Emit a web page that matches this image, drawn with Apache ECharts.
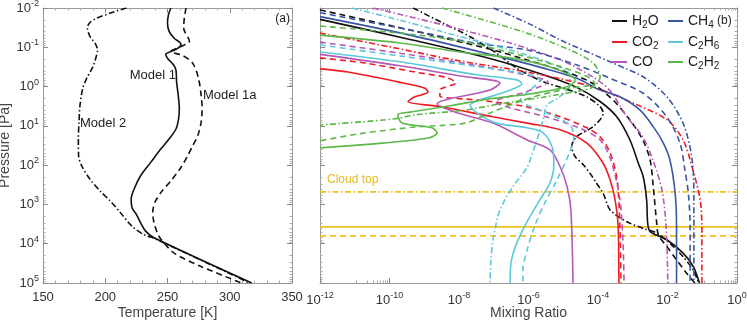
<!DOCTYPE html>
<html>
<head>
<meta charset="utf-8">
<script src="https://cdn.jsdelivr.net/npm/echarts@6/dist/echarts.min.js"></script>
<style>
html,body{margin:0;padding:0;background:#fff}
#chart{width:747px;height:326px}
</style>
</head>
<body>
<div id="chart"></div>
<script>
// panel (a): [temperature K, log10 pressure Pa]
var tempM1 = [[252.7,-2],[250.8,-1.83],[250,-1.62],[251.4,-1.40],[255.4,-1.23],[260.8,-1.08],[258.1,-0.97],[252.7,-0.89],[248.6,-0.82],[250,-0.72],[254.9,-0.55],[256.8,-0.42],[257.3,-0.12],[258.6,0.22],[259.5,0.56],[258.9,0.82],[256.8,1.08],[251.4,1.33],[244.6,1.59],[236.5,1.93],[228.4,2.27],[223,2.62],[220.8,2.87],[221.6,3.09],[225.1,3.26],[228.4,3.47],[232.4,3.68],[239.2,3.85],[317.6,5.0]];
var tempM1a = [[264.9,-2],[263.5,-1.74],[263,-1.49],[267.6,-1.15],[260.8,-1.02],[252.7,-0.89],[262.2,-0.79],[270.3,-0.59],[274.9,-0.21],[277,0.22],[277.8,0.56],[277,0.91],[274.3,1.25],[270.3,1.50],[266.2,1.76],[260.8,2.06],[252.7,2.40],[244.6,2.70],[239.7,2.96],[238.1,3.21],[239.2,3.47],[241.9,3.73],[244.6,3.88],[255.4,4.24],[277,4.58],[309.5,5.0]];
var tempM2 = [[217,-2],[204,-1.87],[193.2,-1.74],[187.3,-1.62],[185.7,-1.49],[187.8,-1.27],[191.9,-1.10],[193.8,-0.93],[192.7,-0.76],[190,-0.5],[185.1,-0.21],[181.9,0.05],[179.7,0.48],[178.9,0.91],[178.4,1.33],[178.6,1.76],[181.1,2.02],[187.8,2.36],[195.9,2.66],[204,2.91],[212.2,3.21],[221.6,3.56],[231.1,3.77],[240.5,3.88],[316,5.0]];

// panel (b): [log10 mixing ratio, log10 pressure Pa]
var h2oM1 = [[-12.0,-1.71],[-9.41,-1.20],[-7.01,-0.69],[-5.57,-0.30],[-4.61,0.02],[-3.94,0.38],[-3.46,0.77],[-3.08,1.36],[-2.84,1.95],[-2.70,2.29],[-2.60,2.89],[-2.57,3.48],[-2.50,3.69],[-2.02,3.90],[-1.55,4.24],[-1.26,4.58],[-1.08,5.0]];
var h2oM1a = [[-12.0,-1.95],[-9.41,-1.44],[-7.01,-0.93],[-6.05,-0.68],[-5.09,-0.42],[-4.23,-0.12],[-3.57,0.34],[-3.08,0.85],[-2.71,1.36],[-2.50,1.87],[-2.41,2.55],[-2.31,3.48],[-2.26,3.78],[-2.02,4.07],[-1.74,4.41],[-1.45,4.75],[-1.21,5.0]];
var h2oM2 = [[-9.32,-2.0],[-8.45,-1.61],[-7.68,-1.27],[-6.92,-0.85],[-6.34,-0.47],[-5.57,-0.12],[-5.00,0.04],[-4.33,0.26],[-3.94,0.51],[-3.85,0.68],[-4.14,1.02],[-4.61,1.27],[-4.76,1.53],[-4.66,1.78],[-4.42,1.99],[-4.23,2.21],[-4.04,2.46],[-3.85,2.72],[-3.65,3.14],[-3.17,3.44],[-2.70,3.61],[-2.31,3.73],[-1.93,3.99],[-1.55,4.33],[-1.26,4.67],[-1.11,5.0]];
var ch4M1 = [[-12.0,-1.78],[-9.41,-1.31],[-7.01,-0.80],[-5.57,-0.47],[-4.61,-0.21],[-3.94,0.09],[-3.37,0.26],[-2.79,0.60],[-2.41,1.02],[-2.12,1.44],[-1.93,1.87],[-1.78,2.71],[-1.74,3.56],[-1.74,5.0]];
var ch4M1a = [[-12.0,-1.88],[-9.41,-1.44],[-7.49,-1.10],[-6.05,-0.93],[-4.61,-0.55],[-3.65,-0.21],[-2.70,0.17],[-2.02,0.77],[-1.64,1.44],[-1.50,2.12],[-1.40,2.72],[-1.35,3.56],[-1.35,5.0]];
var ch4M2 = [[-7.01,-2.0],[-5.96,-1.59],[-5.09,-1.19],[-3.65,-0.63],[-2.65,-0.22],[-1.99,0.29],[-1.53,0.98],[-1.29,1.87],[-1.24,2.88],[-1.24,5.0]];
var co2M1 = [[-12.0,-0.45],[-11.19,-0.37],[-9.76,-0.12],[-8.98,0.04],[-8.89,0.14],[-9.27,0.26],[-9.47,0.38],[-8.46,0.52],[-7.02,0.77],[-6.04,0.93],[-5.09,1.10],[-4.32,1.44],[-3.86,1.94],[-3.65,2.38],[-3.51,2.88],[-3.42,3.57],[-3.40,5.0]];
var co2M1a = [[-12.0,-0.73],[-10.71,-0.60],[-9.27,-0.37],[-8.32,-0.22],[-8.09,-0.09],[-8.55,0.09],[-8.55,0.24],[-7.48,0.34],[-6.04,0.52],[-5.09,0.77],[-4.32,1.05],[-3.94,1.28],[-3.65,1.69],[-3.45,2.38],[-3.37,3.57],[-3.34,5.0]];
var co2M2 = [[-12.0,-1.36],[-9.99,-1.01],[-7.97,-0.65],[-6.04,-0.37],[-4.14,0.01],[-2.99,0.42],[-2.01,0.85],[-1.55,1.36],[-1.27,2.12],[-1.06,2.88],[-1.01,3.65],[-1.01,5.0]];
var coM1 = [[-12.0,-0.82],[-9.70,-0.53],[-7.97,-0.27],[-6.82,-0.09],[-7.11,0.09],[-8.63,0.44],[-8.12,0.65],[-7.02,0.93],[-6.04,1.36],[-5.38,1.61],[-5.09,2.04],[-4.89,2.55],[-4.78,3.14],[-4.72,5.0]];
var coM1a = [[-12.0,-1.13],[-9.70,-0.85],[-7.40,-0.52],[-5.96,-0.27],[-5.44,-0.12],[-6.10,0.14],[-6.96,0.39],[-6.53,0.54],[-5.58,0.75],[-4.60,1.03],[-3.94,1.36],[-3.63,1.87],[-3.37,2.88],[-3.28,3.98],[-3.25,5.0]];
var coM2 = [[-10.47,-2.0],[-8.46,-1.57],[-6.53,-1.11],[-5.09,-0.68],[-4.14,-0.24],[-3.65,0.11],[-3.17,0.77],[-2.71,1.28],[-2.42,1.87],[-2.16,2.63],[-2.04,3.57],[-1.99,5.0]];
var c2h6M1 = [[-12.0,-0.88],[-9.70,-0.63],[-7.48,-0.30],[-6.33,-0.17],[-6.19,-0.07],[-6.68,0.14],[-7.40,0.34],[-7.68,0.47],[-7.02,0.90],[-6.04,1.05],[-5.58,1.18],[-5.32,1.54],[-5.27,1.99],[-5.38,2.45],[-5.67,2.88],[-6.04,3.44],[-6.36,4.03],[-6.50,4.46],[-6.53,5.0]];
var c2h6M1a = [[-12.0,-1.06],[-9.70,-0.78],[-7.40,-0.50],[-5.96,-0.30],[-5.67,-0.17],[-5.96,0.09],[-6.24,0.34],[-5.47,0.67],[-4.81,0.98],[-4.69,1.28],[-4.81,1.66],[-5.18,2.38],[-5.53,2.96],[-5.81,3.52],[-6.04,4.16],[-6.16,4.67],[-6.16,5.0]];
var c2h6M2 = [[-11.08,-2.0],[-9.70,-1.69],[-8.46,-1.39],[-6.53,-0.93],[-5.38,-0.60],[-4.81,-0.30],[-4.81,-0.04],[-5.15,0.29],[-5.47,0.47],[-5.58,0.85],[-5.76,1.36],[-6.04,2.05],[-6.45,2.55],[-6.82,3.14],[-7.02,3.90],[-7.08,4.41],[-7.11,5.0]];
var c2h2M1 = [[-12.0,-1.31],[-9.70,-1.11],[-7.97,-0.88],[-6.53,-0.73],[-5.38,-0.50],[-4.66,-0.17],[-4.81,-0.02],[-5.96,0.19],[-7.11,0.31],[-8.26,0.49],[-9.41,0.65],[-9.76,0.72],[-9.64,0.93],[-8.78,1.05],[-8.63,1.18],[-8.89,1.31],[-10.22,1.44],[-12.0,1.56]];
var c2h2M1a = [[-12.0,-1.54],[-9.70,-1.36],[-7.97,-1.16],[-6.24,-0.80],[-4.95,-0.47],[-4.23,-0.22],[-4.09,-0.07],[-4.81,0.04],[-5.96,0.29],[-7.11,0.67],[-7.83,0.93],[-9.27,1.03],[-10.71,1.18],[-12.0,1.38]];
var c2h2M2 = [[-8.49,-2.0],[-7.97,-1.87],[-6.04,-1.36],[-4.81,-0.93],[-4.14,-0.60],[-3.94,-0.24],[-4.14,0.01],[-4.43,0.09],[-5.58,0.27],[-6.82,0.44],[-7.83,0.60],[-9.27,0.72],[-9.84,0.82],[-12.0,0.98]];

// cloud top, log10 pressure: Model 1, Model 1a, Model 2
var cloudTop = [3.57, 3.80, 2.68];

// mixing-ratio tick labels (exponents)
var mixExpMin = -12, mixExpMax = 0, mixExpStep = 2;

var species = ['H2O','CO2','CO','CH4','C2H6','C2H2'];
var speciesColor = ['#111111','#ec1c24','#b657b7','#3a55a5','#5dc8d9','#5cb947'];
var speciesData = [[h2oM1,h2oM1a,h2oM2],[co2M1,co2M1a,co2M2],[coM1,coM1a,coM2],
                   [ch4M1,ch4M1a,ch4M2],[c2h6M1,c2h6M1a,c2h6M2],[c2h2M1,c2h2M1a,c2h2M2]];
var richName = {
  'H2O':'{n|H}{s|2}{n|O}','CO2':'{n|CO}{s|2}','CO':'{n|CO}',
  'CH4':'{n|CH}{s|4}','C2H6':'{n|C}{s|2}{n|H}{s|6}','C2H2':'{n|C}{s|2}{n|H}{s|2}'
};

var FONT = 'Liberation Sans, Arial, sans-serif';
var styles = ['solid', [6,4], [6,2.5,1.5,2.5]];

function linP(arr){ return arr.map(function(p){ return [p[0], Math.pow(10,p[1])]; }); }
function logXP(arr){ return arr.map(function(p){ return [Math.pow(10,p[0]), Math.pow(10,p[1])]; }); }

function powLabel(v){
  var e = Math.round(Math.log10(v));
  return '{b|10}{e|' + e + '}';
}
var powRich = {b:{fontSize:13,color:'#333',fontFamily:FONT}, e:{fontSize:9,color:'#333',fontFamily:FONT,padding:[0,0,9,0]}};

function baseAxis(extra){
  var a = {
    axisLine:{onZero:false, lineStyle:{color:'#999',width:1}},
    axisTick:{inside:true,length:5,lineStyle:{color:'#888'}},
    minorTick:{show:true,length:2.5,lineStyle:{color:'#aaa'}},
    splitLine:{show:false},
    axisLabel:{color:'#333',fontSize:13,fontFamily:FONT}
  };
  for (var k in extra) a[k] = extra[k];
  return a;
}

var series = [];
[tempM1,tempM1a,tempM2].forEach(function(d,i){
  series.push({type:'line', xAxisIndex:0, yAxisIndex:0, data:linP(d), showSymbol:false, smooth:0.3,
    lineStyle:{color:'#111',width:1.6,type:styles[i]}, silent:true});
});
speciesData.forEach(function(group,si){
  group.forEach(function(d,mi){
    series.push({type:'line', name: mi===0 ? species[si] : species[si]+'_'+mi,
      xAxisIndex:2, yAxisIndex:2, data:logXP(d), showSymbol:false, smooth:0.3,
      itemStyle:{color:speciesColor[si]},
      lineStyle:{color:speciesColor[si],width:1.6,type:styles[mi]}, silent:true});
  });
});
cloudTop.forEach(function(lp,mi){
  series.push({type:'line', xAxisIndex:2, yAxisIndex:2, showSymbol:false,
    data:[[1e-12,Math.pow(10,lp)],[1,Math.pow(10,lp)]],
    lineStyle:{color:'#f0c020',width:1.8,type:styles[mi]}, silent:true, z:1});
});

var legendPos = [[612,14],[612,35],[612,55],[668,14],[668,35],[668,55]];
var legends = species.map(function(s,i){
  return {data:[s], left:legendPos[i][0], top:legendPos[i][1], icon:'rect', itemWidth:15, itemHeight:2,
    itemGap:0, padding:0, selectedMode:false,
    formatter:function(n){ return richName[n]; },
    textStyle:{fontSize:14,color:'#222',fontFamily:FONT,
      rich:{n:{fontSize:14,color:'#222',fontFamily:FONT}, s:{fontSize:10,color:'#222',fontFamily:FONT,padding:[8,0,0,0]}}}};
});

var logMinor = {show:true,splitNumber:9,length:2.5,lineStyle:{color:'#aaa'}};
var option = {
  animation:false,
  backgroundColor:'#fff',
  grid:[{left:43,top:8,width:249,height:275,outerBoundsMode:'none',containLabel:false},
        {left:320,top:8,width:417,height:275,outerBoundsMode:'none',containLabel:false}],
  xAxis:[
    baseAxis({type:'value',gridIndex:0,position:'bottom',min:150,max:350,interval:50,
      minorTick:{show:true,splitNumber:5,length:2.5,lineStyle:{color:'#aaa'}},
      name:'Temperature [K]',nameLocation:'middle',nameGap:23,nameMoveOverlap:false,
      nameTextStyle:{fontSize:14,color:'#444',fontFamily:FONT}}),
    baseAxis({type:'value',gridIndex:0,position:'top',min:150,max:350,interval:50,axisLabel:{show:false},
      minorTick:{show:true,splitNumber:5,length:2.5,lineStyle:{color:'#aaa'}}}),
    baseAxis({type:'log',gridIndex:1,position:'bottom',min:1e-12,max:1,splitNumber:12,
      minorTick:{show:true,splitNumber:9,length:2.5,lineStyle:{color:'#aaa'}},
      axisLabel:{show:false},
      name:'Mixing Ratio',nameLocation:'middle',nameGap:23,nameMoveOverlap:false,
      nameTextStyle:{fontSize:14,color:'#444',fontFamily:FONT}}),
    baseAxis({type:'log',gridIndex:1,position:'top',min:1e-12,max:1,splitNumber:12,axisLabel:{show:false},
      minorTick:{show:true,splitNumber:9,length:2.5,lineStyle:{color:'#aaa'}}}),
    // label-only axis in exponent space for the mixing-ratio decades
    {type:'value',gridIndex:1,position:'bottom',min:mixExpMin,max:mixExpMax,interval:mixExpStep,
      axisLine:{show:false},axisTick:{show:false},minorTick:{show:false},splitLine:{show:false},
      axisLabel:{color:'#333',fontSize:13,fontFamily:FONT,rich:powRich,
        formatter:function(e){ return '{b|10}{e|' + Math.round(e) + '}'; }}}
  ],
  yAxis:[
    baseAxis({type:'log',gridIndex:0,position:'left',min:0.01,max:1e5,inverse:true,splitNumber:7,
      minorTick:logMinor,
      axisLabel:{color:'#333',fontSize:13,fontFamily:FONT,rich:powRich,formatter:powLabel,margin:4},
      name:'Pressure [Pa]',nameLocation:'middle',nameGap:28,
      nameTextStyle:{fontSize:14,color:'#444',fontFamily:FONT}}),
    baseAxis({type:'log',gridIndex:0,position:'right',min:0.01,max:1e5,inverse:true,splitNumber:7,axisLabel:{show:false},
      minorTick:logMinor}),
    baseAxis({type:'log',gridIndex:1,position:'left',min:0.01,max:1e5,inverse:true,splitNumber:7,axisLabel:{show:false},
      minorTick:logMinor}),
    baseAxis({type:'log',gridIndex:1,position:'right',min:0.01,max:1e5,inverse:true,splitNumber:7,axisLabel:{show:false},
      minorTick:logMinor})
  ],
  legend:legends,
  graphic:[
    {type:'text',x:176,y:75,style:{text:'Model 1',font:'13px '+FONT,fill:'#222',textAlign:'right',textVerticalAlign:'middle'}},
    {type:'text',x:203,y:95,style:{text:'Model 1a',font:'13px '+FONT,fill:'#222',textAlign:'left',textVerticalAlign:'middle'}},
    {type:'text',x:80,y:123,style:{text:'Model 2',font:'13px '+FONT,fill:'#222',textAlign:'left',textVerticalAlign:'middle'}},
    {type:'text',x:290,y:19,style:{text:'(a)',font:'12px '+FONT,fill:'#222',textAlign:'right',textVerticalAlign:'middle'}},
    {type:'text',x:717,y:21,style:{text:'(b)',font:'12px '+FONT,fill:'#222',textAlign:'left',textVerticalAlign:'middle'}},
    {type:'text',x:327,y:180,style:{text:'Cloud top',font:'12px '+FONT,fill:'#e8b923',textAlign:'left',textVerticalAlign:'middle'}}
  ],
  series:series
};

var chart = echarts.init(document.getElementById('chart'), null, {renderer:'canvas'});
chart.setOption(option);
</script>
</body>
</html>
